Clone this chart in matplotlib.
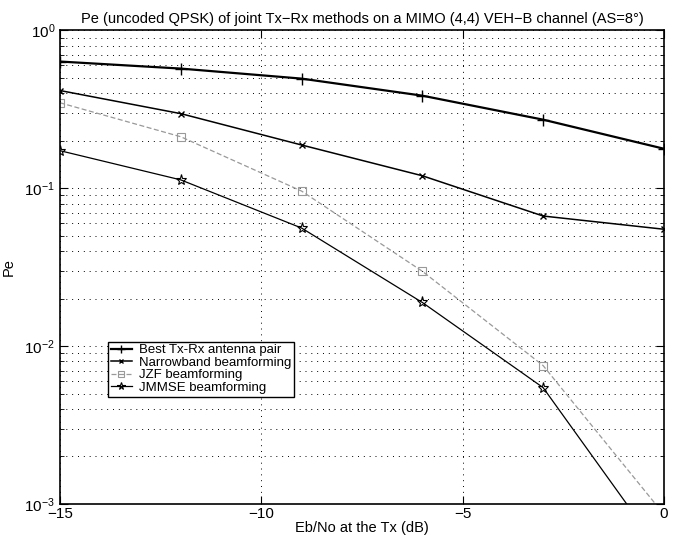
import matplotlib
matplotlib.use('Agg')
import matplotlib.pyplot as plt
from matplotlib.ticker import LogLocator, NullFormatter

plt.rcParams['font.family'] = ['Liberation Sans', 'DejaVu Sans']

ebno = [-15, -12, -9, -6, -3, 0]
best_pair = [0.635, 0.573, 0.495, 0.386, 0.272, 0.178]
narrowband = [0.416, 0.297, 0.188, 0.120, 0.0667, 0.055]
jzf = [0.348, 0.212, 0.096, 0.0298, 0.00753, 0.00086]
jmmse = [0.173, 0.113, 0.056, 0.0189, 0.00546, 0.00047]

labels = ['Best Tx-Rx antenna pair', 'Narrowband beamforming',
          'JZF beamforming', 'JMMSE beamforming']

fig = plt.figure(figsize=(6.74, 5.4), dpi=100)
ax = fig.add_axes([0.089, 0.0667, 0.896, 0.877])

ax.semilogy(ebno, best_pair, color='black', lw=1.6, marker='+', ms=8, mew=1.0, label=labels[0])
ax.semilogy(ebno, narrowband, color='black', lw=1.1, marker='x', ms=5, mew=1.0, label=labels[1])
ax.semilogy(ebno, jzf, color='#999999', lw=0.9, ls=(0, (4, 2)), marker='s', ms=6,
            mfc='none', mec='#999999', mew=0.8, label=labels[2])
ax.semilogy(ebno, jmmse, color='black', lw=0.9, marker='*', ms=8, mfc='none',
            mec='black', mew=0.8, label=labels[3])

ax.set_xlim(-15, 0)
ax.set_ylim(1e-3, 1)
ax.set_xticks([-15, -10, -5, 0])
ax.set_xticklabels(['\u221215', '\u221210', '\u22125', '0'])
ax.yaxis.set_major_locator(LogLocator(base=10))
ax.yaxis.set_minor_locator(LogLocator(base=10, subs=range(2, 10)))
ax.yaxis.set_minor_formatter(NullFormatter())

dots = dict(color='black', lw=0.7, ls=(0, (1, 5)))
ax.grid(True, which='major', **dots)
ax.grid(True, which='minor', axis='y', **dots)

ax.tick_params(which='both', direction='in', top=True, right=True, labelsize=11)
ax.tick_params(which='major', length=6)
ax.tick_params(which='minor', length=3)
ax.tick_params(axis='x', pad=2)
for s in ax.spines.values():
    s.set_linewidth(1.2)

ax.set_title('Pe (uncoded QPSK) of joint Tx\u2212Rx methods on a MIMO (4,4) VEH\u2212B channel (AS=8\u00b0)',
             fontsize=10.5, pad=5)
ax.set_xlabel('Eb/No at the Tx (dB)', fontsize=10.5, labelpad=0)
ax.set_ylabel('Pe', fontsize=10.5, labelpad=6)

leg = ax.legend(loc='upper left', bbox_to_anchor=(0.08, 0.343), fontsize=9.5,
                frameon=True, fancybox=False, edgecolor='black', framealpha=1,
                borderpad=0.2, labelspacing=0.02, handlelength=1.6, handletextpad=0.5,
                borderaxespad=0, markerscale=0.7)
leg.get_frame().set_linewidth(1.0)

fig.savefig('out.png', dpi=100)
